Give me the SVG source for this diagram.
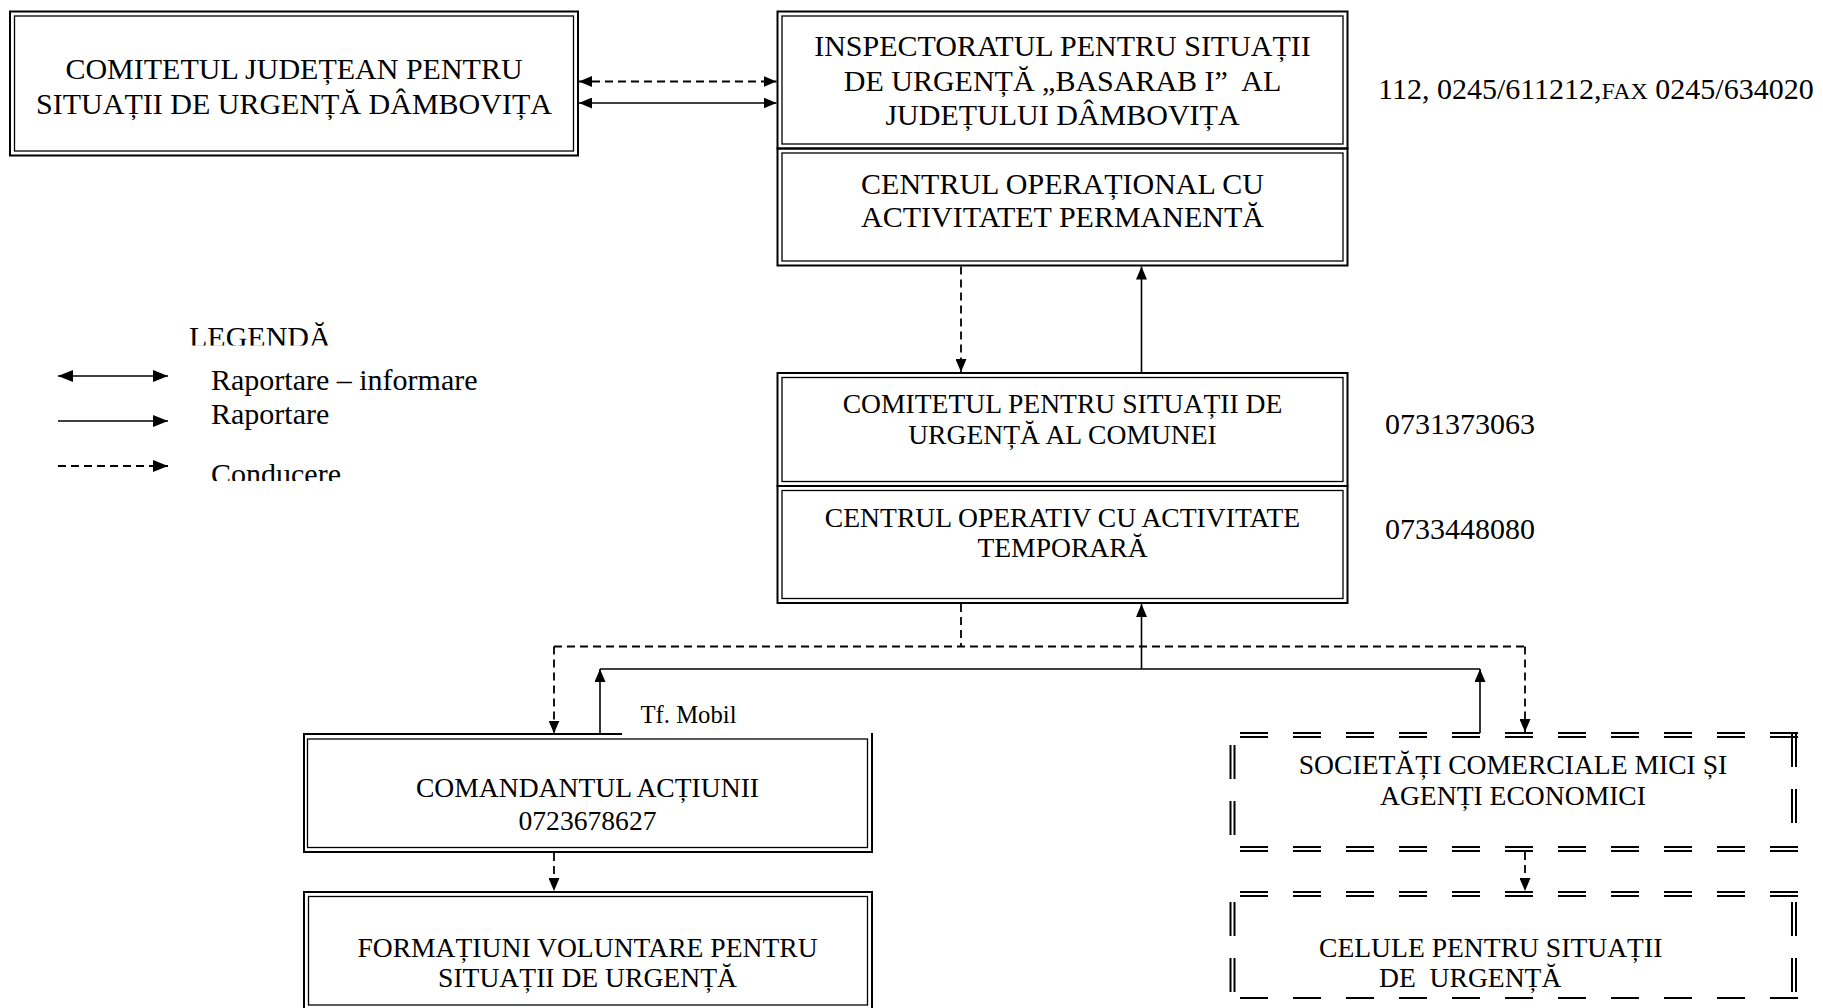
<svg xmlns="http://www.w3.org/2000/svg" width="1823" height="1008" viewBox="0 0 1823 1008">
<style>
.bg{fill:#fff}
.o{fill:none;stroke:#000;stroke-width:2}
.i{fill:none;stroke:#000;stroke-width:1.3}
.t{font-family:"Liberation Serif","Times New Roman",serif;fill:#000;text-anchor:middle}
.t30{font-size:30px}
.t28{font-size:27.6px}
.s{font-family:"Liberation Serif","Times New Roman",serif;fill:#000}
.sol{fill:none;stroke:#000;stroke-width:1.6}
.das{fill:none;stroke:#000;stroke-width:1.8;stroke-dasharray:8 5}
.dh{fill:none;stroke:#000;stroke-width:2;stroke-dasharray:28 25}
.dv{fill:none;stroke:#000;stroke-width:2;stroke-dasharray:34 22}
</style>
<defs>
<marker id="ah" viewBox="0 0 13 11" refX="13" refY="5.5" markerWidth="13" markerHeight="11" markerUnits="userSpaceOnUse" orient="auto-start-reverse">
<path d="M0,0 L13,5.5 L0,11 z" fill="#000"/>
</marker>
<marker id="ahL" viewBox="0 0 15 12" refX="15" refY="6" markerWidth="15" markerHeight="12" markerUnits="userSpaceOnUse" orient="auto-start-reverse">
<path d="M0,0 L15,6 L0,12 z" fill="#000"/>
</marker>
<clipPath id="clipLeg"><rect x="150" y="300" width="200" height="45.5"/></clipPath>
<clipPath id="clipCond"><rect x="200" y="440" width="200" height="41"/></clipPath>
</defs>
<rect class="bg" x="0" y="0" width="1823" height="1008"/>

<g id="comitetul-judetean">
<rect class="o" x="10" y="11.5" width="568" height="144"/>
<rect class="i" x="14.5" y="16" width="559" height="135"/>
<text class="t t30" x="294" y="79">COMITETUL JUDEȚEAN PENTRU</text>
<text class="t t30" x="294" y="113.5">SITUAȚII DE URGENȚĂ DÂMBOVIȚA</text>
</g>

<g id="inspectoratul">
<rect class="o" x="777.5" y="11.5" width="570" height="137"/>
<rect class="i" x="782" y="16" width="561" height="128"/>
<text class="t t30" x="1062.5" y="56">INSPECTORATUL PENTRU SITUAȚII</text>
<text class="t t30" x="1062.5" y="91" xml:space="preserve">DE URGENȚĂ „BASARAB I”  AL</text>
<text class="t t30" x="1062.5" y="125">JUDEȚULUI DÂMBOVIȚA</text>
</g>

<g id="centrul-operational">
<rect class="o" x="777.5" y="148.5" width="570" height="117"/>
<rect class="i" x="782" y="153" width="561" height="108"/>
<text class="t t30" x="1062.5" y="194">CENTRUL OPERAȚIONAL CU</text>
<text class="t t30" x="1062.5" y="227">ACTIVITATET PERMANENTĂ</text>
</g>

<g id="tel-isu">
<text class="s" x="1378" y="99" font-size="30">112, 0245/611212,<tspan font-size="24">FAX</tspan> 0245/634020</text>
</g>

<g id="comitetul-comunei">
<rect class="o" x="777.5" y="373" width="570" height="113"/>
<rect class="i" x="782" y="377.5" width="561" height="104"/>
<text class="t t28" x="1062.5" y="413">COMITETUL PENTRU SITUAȚII DE</text>
<text class="t t28" x="1062.5" y="444">URGENȚĂ AL COMUNEI</text>
</g>

<g id="centrul-operativ">
<rect class="o" x="777.5" y="486" width="570" height="117"/>
<rect class="i" x="782" y="490.5" width="561" height="108"/>
<text class="t t28" x="1062.5" y="527">CENTRUL OPERATIV CU ACTIVITATE</text>
<text class="t t28" x="1062.5" y="557">TEMPORARĂ</text>
</g>

<g id="tel-comitet">
<text class="s" x="1385" y="434" font-size="30">0731373063</text>
</g>
<g id="tel-centru">
<text class="s" x="1385" y="538.5" font-size="30">0733448080</text>
</g>

<g id="legenda">
<text class="s" x="189" y="347" font-size="30" clip-path="url(#clipLeg)">LEGENDĂ</text>
<path class="sol" d="M58,376 H168" marker-start="url(#ahL)" marker-end="url(#ahL)"/>
<text class="s" x="211" y="390" font-size="30">Raportare – informare</text>
<path class="sol" d="M58,421 H168" marker-end="url(#ahL)"/>
<text class="s" x="211" y="424" font-size="30">Raportare</text>
<path class="das" d="M58,466 H168" marker-end="url(#ahL)"/>
<text class="s" x="211" y="484" font-size="30" clip-path="url(#clipCond)">Conducere</text>
</g>

<g id="tf-mobil">
<text class="s" x="640.5" y="723" font-size="24.7">Tf. Mobil</text>
</g>

<g id="comandantul">
<path class="o" d="M622,734 H304 V852 H872 V733"/>
<rect class="i" x="307.5" y="739" width="560" height="108.5"/>
<text class="t t28" x="587.5" y="797">COMANDANTUL ACȚIUNII</text>
<text class="t t28" x="587.5" y="830">0723678627</text>
</g>

<g id="formatiuni">
<rect class="o" x="304" y="892" width="568" height="120"/>
<rect class="i" x="308.5" y="896.5" width="559" height="108.5"/>
<text class="t t28" x="587.5" y="957">FORMAȚIUNI VOLUNTARE PENTRU</text>
<text class="t t28" x="587.5" y="987">SITUAȚII DE URGENȚĂ</text>
</g>

<g id="societati">
<path class="dh" d="M1240,733 H1798 M1240,737 H1798 M1240,847 H1798 M1240,851 H1798"/>
<path class="dv" d="M1230.5,745 V835 M1234.5,745 V835 M1792,733 V835 M1796,733 V835"/>
<text class="t t28" x="1513" y="774">SOCIETĂȚI COMERCIALE MICI ȘI</text>
<text class="t t28" x="1513" y="805">AGENȚI ECONOMICI</text>
</g>

<g id="celule">
<path class="dh" d="M1240,892 H1798 M1240,896 H1798 M1240,998 H1798"/>
<path class="dv" d="M1230.5,902 V992 M1234.5,902 V992 M1792,902 V992 M1796,902 V992"/>
<text class="s" x="1319" y="957" font-size="27.6">CELULE PENTRU SITUAȚII</text>
<text class="s" x="1379" y="987" font-size="27.6" xml:space="preserve">DE  URGENȚĂ</text>
</g>

<g id="connectors">
<path class="das" d="M579,81.5 H776.5" marker-start="url(#ah)" marker-end="url(#ah)"/>
<path class="sol" d="M579,103 H776.5" marker-start="url(#ah)" marker-end="url(#ah)"/>
<path class="das" d="M961,266.5 V372" marker-end="url(#ah)"/>
<path class="sol" d="M1141.5,372 V266.5" marker-end="url(#ah)"/>
<path class="das" d="M961,604 V646.5 M554,646.5 H1525"/>
<path class="das" d="M554,646.5 V733.5" marker-end="url(#ah)"/>
<path class="das" d="M1525,646.5 V732" marker-end="url(#ah)"/>
<path class="sol" d="M1141.5,669 V604" marker-end="url(#ah)"/>
<path class="sol" d="M600,669 H1480"/>
<path class="sol" d="M600,734 V669" marker-end="url(#ah)"/>
<path class="sol" d="M1480,733 V669" marker-end="url(#ah)"/>
<path class="das" d="M554,853 V891" marker-end="url(#ah)"/>
<path class="das" d="M1525,852 V891" marker-end="url(#ah)"/>
</g>
</svg>
